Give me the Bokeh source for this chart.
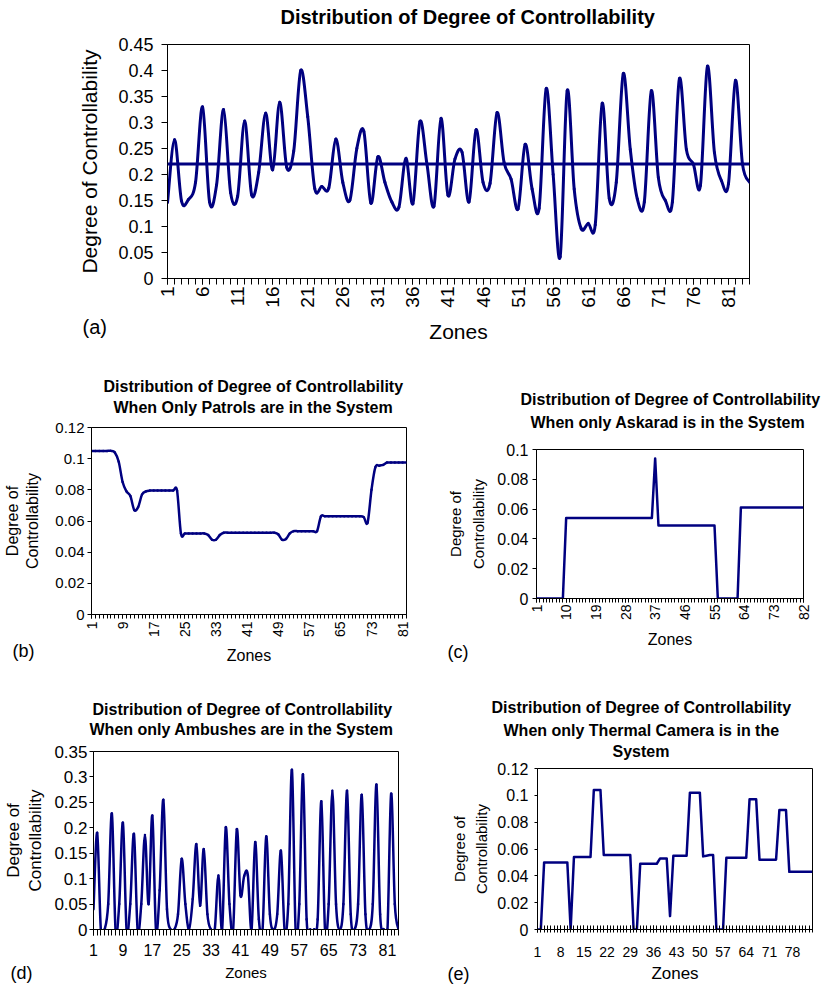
import math
from bokeh.plotting import figure
from bokeh.models import (Range1d, FixedTicker, CustomJSTickFormatter, Label, Span, Title,
                          ColumnDataSource)
from bokeh.layouts import column, row
from bokeh.embed import file_html
from bokeh.resources import INLINE

FONT = "Liberation Sans"
NAVY = "#000080"

ZONES_84 = list(range(1, 85))
ZONES_82 = list(range(1, 83))

# (a) all systems
A_VALUES = [
    0.146, 0.267, 0.149, 0.152, 0.185, 0.330, 0.147, 0.180, 0.325, 0.165,
    0.158, 0.303, 0.161, 0.204, 0.318, 0.209, 0.339, 0.214, 0.245, 0.400,
    0.311, 0.173, 0.177, 0.174, 0.268, 0.185, 0.150, 0.250, 0.283, 0.145,
    0.234, 0.185, 0.147, 0.137, 0.231, 0.144, 0.302, 0.220, 0.139, 0.308,
    0.160, 0.230, 0.243, 0.147, 0.286, 0.185, 0.183, 0.319, 0.223, 0.191,
    0.134, 0.258, 0.172, 0.135, 0.365, 0.200, 0.042, 0.361, 0.172, 0.096,
    0.106, 0.103, 0.337, 0.154, 0.185, 0.394, 0.248, 0.153, 0.147, 0.361,
    0.194, 0.150, 0.147, 0.384, 0.248, 0.220, 0.179, 0.408, 0.242, 0.188,
    0.182, 0.381, 0.220, 0.185]
A_MEAN = 0.22

# (b) patrols only
B_VALUES = [
    0.105, 0.105, 0.105, 0.105, 0.105, 0.105, 0.104, 0.098, 0.085, 0.079,
    0.076, 0.067, 0.069, 0.077, 0.079, 0.0795, 0.0795, 0.0795, 0.0795, 0.0795,
    0.0795, 0.0795, 0.0795, 0.052, 0.052, 0.052, 0.052, 0.052, 0.052, 0.052,
    0.051, 0.048, 0.048, 0.051, 0.0525, 0.0525, 0.0525, 0.0525, 0.0525, 0.0525,
    0.0525, 0.0525, 0.0525, 0.0525, 0.0525, 0.0525, 0.0525, 0.0525, 0.0515, 0.048,
    0.0485, 0.052, 0.0535, 0.0535, 0.0535, 0.0535, 0.0535, 0.0535, 0.0535, 0.063,
    0.063, 0.063, 0.063, 0.063, 0.063, 0.063, 0.063, 0.063, 0.063, 0.063,
    0.0625, 0.059, 0.080, 0.0945, 0.0955, 0.096, 0.0975, 0.0975, 0.0975, 0.0975,
    0.0975, 0.0975]

# (c) Askarad only
C_VALUES = [
    0, 0, 0, 0, 0, 0, 0, 0, 0, 0.054,
    0.054, 0.054, 0.054, 0.054, 0.054, 0.054, 0.054, 0.054, 0.054, 0.054,
    0.054, 0.054, 0.054, 0.054, 0.054, 0.054, 0.054, 0.054, 0.054, 0.054,
    0.054, 0.054, 0.054, 0.054, 0.054, 0.054, 0.094, 0.049, 0.049, 0.049,
    0.049, 0.049, 0.049, 0.049, 0.049, 0.049, 0.049, 0.049, 0.049, 0.049,
    0.049, 0.049, 0.049, 0.049, 0.049, 0, 0, 0, 0, 0,
    0, 0, 0.061, 0.061, 0.061, 0.061, 0.061, 0.061, 0.061, 0.061,
    0.061, 0.061, 0.061, 0.061, 0.061, 0.061, 0.061, 0.061, 0.061, 0.061,
    0.061, 0.061]

# (d) ambushes only
D_VALUES = [
    0.040, 0.190, 0, 0, 0.050, 0.228, 0, 0.050, 0.210, 0,
    0.050, 0.188, 0, 0.050, 0.186, 0.050, 0.224, 0, 0.077, 0.255,
    0.040, 0, 0, 0.030, 0.139, 0.050, 0, 0.060, 0.168, 0.047,
    0.158, 0.030, 0, 0, 0.106, 0, 0.201, 0.050, 0, 0.197,
    0.067, 0.105, 0.107, 0, 0.172, 0.020, 0, 0.183, 0.030, 0,
    0.030, 0.155, 0, 0.050, 0.314, 0, 0.050, 0.305, 0.020, 0,
    0, 0.020, 0.252, 0, 0.050, 0.273, 0.050, 0, 0.050, 0.273,
    0.030, 0, 0.050, 0.265, 0.030, 0, 0.050, 0.285, 0.030, 0,
    0, 0.267, 0.050, 0]

# (e) thermal camera only
E_VALUES = [
    0, 0, 0.050, 0.050, 0.050, 0.050, 0.050, 0.050, 0.050, 0.050,
    0, 0.054, 0.054, 0.054, 0.054, 0.054, 0.054, 0.104, 0.104, 0.104,
    0.0555, 0.0555, 0.0555, 0.0555, 0.0555, 0.0555, 0.0555, 0.0555, 0.0555, 0,
    0, 0.049, 0.049, 0.049, 0.049, 0.049, 0.049, 0.053, 0.053, 0.053,
    0.010, 0.055, 0.055, 0.055, 0.055, 0.055, 0.102, 0.102, 0.102, 0.102,
    0.0545, 0.055, 0.0555, 0.0555, 0, 0, 0, 0.0535, 0.0535, 0.0535,
    0.0535, 0.0535, 0.0535, 0.0535, 0.097, 0.097, 0.097, 0.052, 0.052, 0.052,
    0.052, 0.052, 0.052, 0.089, 0.089, 0.089, 0.043, 0.043, 0.043, 0.043,
    0.043, 0.043, 0.043, 0.043]

A_XLABELS = [1, 6, 11, 16, 21, 26, 31, 36, 41, 46, 51, 56, 61, 66, 71, 76, 81]
B_XLABELS = [1, 9, 17, 25, 33, 41, 49, 57, 65, 73, 81]
C_XLABELS = [1, 10, 19, 28, 37, 46, 55, 64, 73, 82]
D_XLABELS = [1, 9, 17, 25, 33, 41, 49, 57, 65, 73, 81]
E_XLABELS = [1, 8, 15, 22, 29, 36, 43, 50, 57, 64, 71, 78]

A_YTICKS = [0, 0.05, 0.1, 0.15, 0.2, 0.25, 0.3, 0.35, 0.4, 0.45]
B_YTICKS = [0, 0.02, 0.04, 0.06, 0.08, 0.1, 0.12]
C_YTICKS = [0, 0.02, 0.04, 0.06, 0.08, 0.1]
D_YTICKS = [0, 0.05, 0.1, 0.15, 0.2, 0.25, 0.3, 0.35]
E_YTICKS = [0, 0.02, 0.04, 0.06, 0.08, 0.1, 0.12]

T_HEAD = "Distribution of Degree of Controllability"
A_TITLE = [T_HEAD]
B_TITLE = [T_HEAD, "When Only Patrols are in the System"]
C_TITLE = [T_HEAD, "When only Askarad is in the System"]
D_TITLE = [T_HEAD, "When only Ambushes are in the System"]
E_TITLE = [T_HEAD, "When only Thermal Camera is in the", "System"]

YFMT = "return tick.toFixed(2).replace(/\\.?0+$/, '');"


def smoothed_line(p, xs, ys, color, width):
    """Excel-style smoothed line: one cubic Bezier per pair of neighbouring points."""
    n = len(xs)
    seg = dict(x0=[], y0=[], x1=[], y1=[], cx0=[], cy0=[], cx1=[], cy1=[])
    for i in range(n - 1):
        a = max(i - 1, 0)
        d = min(i + 2, n - 1)
        seg["x0"].append(xs[i])
        seg["y0"].append(ys[i])
        seg["x1"].append(xs[i + 1])
        seg["y1"].append(ys[i + 1])
        seg["cx0"].append(xs[i] + (xs[i + 1] - xs[a]) / 6.0)
        seg["cy0"].append(ys[i] + (ys[i + 1] - ys[a]) / 6.0)
        seg["cx1"].append(xs[i + 1] - (xs[d] - xs[i]) / 6.0)
        seg["cy1"].append(ys[i + 1] - (ys[d] - ys[i]) / 6.0)
    p.bezier(x0="x0", y0="y0", x1="x1", y1="y1", cx0="cx0", cy0="cy0", cx1="cx1", cy1="cy1",
             source=ColumnDataSource(seg), line_color=color, line_width=width, line_cap="round")


def make(zones, values, w, h, left, top, fw, fh, y_end, yticks, xlabels, title_lines, t):
    p = figure(width=w, height=h, x_range=Range1d(zones[0], zones[-1]), y_range=Range1d(0, y_end),
               output_backend="svg", toolbar_location=None, title=None,
               min_border_left=left, min_border_top=top,
               min_border_right=w - left - fw, min_border_bottom=h - top - fh)
    p.background_fill_color = "white"
    p.border_fill_color = "white"
    p.outline_line_color = "black"
    p.outline_line_width = 1
    p.xgrid.visible = False
    p.ygrid.visible = False

    # spacer between frame and the title block
    p.add_layout(Title(text=" ", text_font=FONT, text_font_size="1px",
                       standoff=t["gap"]), "above")
    # title lines, bottom line first (closest to the frame)
    n = len(title_lines)
    for k in range(n - 1, -1, -1):
        p.add_layout(Title(text=title_lines[k], text_font=FONT, text_font_style="bold",
                           text_font_size=t["title_fs"], align="left",
                           offset=t["title_offsets"][k], standoff=t["title_standoffs"][k],
                           text_color="black"), "above")

    xa = p.xaxis[0]
    xa.ticker = FixedTicker(ticks=xlabels, minor_ticks=zones)
    xa.axis_line_color = "black"
    xa.major_tick_line_color = "black"
    xa.minor_tick_line_color = "black"
    xa.major_tick_out = t["xtick_out"]
    xa.minor_tick_out = t["xtick_out"]
    xa.major_tick_in = t["xtick_in"]
    xa.minor_tick_in = t["xtick_in"]
    xa.major_label_text_font = FONT
    xa.major_label_text_font_size = t["xlab_fs"]
    xa.major_label_text_color = "black"
    xa.major_label_standoff = t["xlab_standoff"]
    if t["xvertical"]:
        xa.major_label_orientation = math.pi / 2
    xa.axis_label = "Zones"
    xa.axis_label_text_font = FONT
    xa.axis_label_text_font_style = "normal"
    xa.axis_label_text_font_size = t["xtitle_fs"]
    xa.axis_label_text_color = "black"
    xa.axis_label_standoff = t["xtitle_standoff"]

    ya = p.yaxis[0]
    ya.ticker = FixedTicker(ticks=yticks)
    ya.formatter = CustomJSTickFormatter(code=YFMT)
    ya.axis_line_color = "black"
    ya.major_tick_line_color = "black"
    ya.minor_tick_line_color = None
    ya.major_tick_out = t["ytick_out"]
    ya.major_tick_in = 0
    ya.major_label_text_font = FONT
    ya.major_label_text_font_size = t["ylab_fs"]
    ya.major_label_text_color = "black"
    ya.major_label_standoff = t["ylab_standoff"]
    ya.axis_label = t["ytitle"]
    ya.axis_label_text_font = FONT
    ya.axis_label_text_font_style = "normal"
    ya.axis_label_text_font_size = t["ytitle_fs"]
    ya.axis_label_text_color = "black"
    ya.axis_label_text_line_height = t["ytitle_lh"]
    ya.axis_label_standoff = t["ytitle_standoff"]

    if t["smooth"]:
        smoothed_line(p, zones, values, NAVY, t["lw"])
    else:
        p.line(zones, values, line_color=NAVY, line_width=t["lw"], line_join="round")

    # panel tag, "(a)".."(e)", placed in a side panel so it is not clipped to the frame
    p.add_layout(Label(x=t["tag_x"], y=t["tag_y"], x_units="screen", y_units="screen",
                       text=t["tag"], text_font=FONT, text_font_size=t["tag_fs"],
                       text_baseline="middle", text_align="left", text_color="black"),
                 t["tag_side"])
    return p


fig_a = make(ZONES_84, A_VALUES, 833, 345, 167, 44, 582, 237, 0.45, A_YTICKS, A_XLABELS, A_TITLE, dict(
    gap=14, title_fs="20px", title_offsets=[113], title_standoffs=[0],
    xtick_out=6, xtick_in=0, xlab_fs="19px", xlab_standoff=2, xvertical=True,
    xtitle_fs="21px", xtitle_standoff=9,
    ytick_out=6, ylab_fs="18px", ylab_standoff=8,
    ytitle="Degree of Controllability", ytitle_fs="21px", ytitle_lh=1.0, ytitle_standoff=14,
    smooth=True, lw=3, tag="(a)", tag_side="right", tag_x=-667, tag_y=-48, tag_fs="20px"))
fig_a.add_layout(Span(location=A_MEAN, dimension="width", line_color=NAVY, line_width=3))

fig_b = make(ZONES_82, B_VALUES, 420, 323, 89, 82, 317, 187, 0.12, B_YTICKS, B_XLABELS, B_TITLE, dict(
    gap=9, title_fs="16px", title_offsets=[12, 22], title_standoffs=[4, 0],
    xtick_out=4, xtick_in=0, xlab_fs="14px", xlab_standoff=3, xvertical=True,
    xtitle_fs="16px", xtitle_standoff=7,
    ytick_out=4, ylab_fs="15px", ylab_standoff=3,
    ytitle="Degree of\nControllability", ytitle_fs="16px", ytitle_lh=1.2, ytitle_standoff=11,
    smooth=True, lw=2.5, tag="(b)", tag_side="above", tag_x=-79, tag_y=-277, tag_fs="18px"))

fig_c = make(ZONES_82, C_VALUES, 413, 323, 116, 104, 267, 149, 0.1, C_YTICKS, C_XLABELS, C_TITLE, dict(
    gap=16, title_fs="16px", title_offsets=[-16, -6], title_standoffs=[8, 0],
    xtick_out=4, xtick_in=0, xlab_fs="14px", xlab_standoff=2, xvertical=True,
    xtitle_fs="16px", xtitle_standoff=8,
    ytick_out=4, ylab_fs="16px", ylab_standoff=4,
    ytitle="Degree of\nControllability", ytitle_fs="15px", ytitle_lh=1.35, ytitle_standoff=7,
    smooth=False, lw=2.5, tag="(c)", tag_side="above", tag_x=-89, tag_y=-267, tag_fs="18px"))

fig_d = make(ZONES_84, D_VALUES, 420, 317, 93, 83, 305, 178, 0.35, D_YTICKS, D_XLABELS, D_TITLE, dict(
    gap=11, title_fs="16px", title_offsets=[-1, -4], title_standoffs=[2, 0],
    xtick_out=6, xtick_in=0, xlab_fs="16px", xlab_standoff=8, xvertical=False,
    xtitle_fs="15px", xtitle_standoff=5,
    ytick_out=4, ylab_fs="17px", ylab_standoff=2,
    ytitle="Degree of\nControllability", ytitle_fs="17px", ytitle_lh=1.2, ytitle_standoff=6,
    smooth=True, lw=2.5, tag="(d)", tag_side="above", tag_x=-83, tag_y=-275, tag_fs="18px"))

fig_e = make(ZONES_84, E_VALUES, 413, 317, 117, 100, 275, 162, 0.12, E_YTICKS, E_XLABELS, E_TITLE, dict(
    gap=6, title_fs="16px", title_offsets=[-46, -34, 75], title_standoffs=[4, 4, 0],
    xtick_out=3, xtick_in=4, xlab_fs="14px", xlab_standoff=14, xvertical=False,
    xtitle_fs="17px", xtitle_standoff=4,
    ytick_out=3, ylab_fs="16px", ylab_standoff=6,
    ytitle="Degree of\nControllability", ytitle_fs="15px", ytitle_lh=1.33, ytitle_standoff=4,
    smooth=False, lw=2.5, tag="(e)", tag_side="above", tag_x=-90, tag_y=-279, tag_fs="18px"))

layout = column(fig_a,
                row(column(fig_b), column(fig_c)),
                row(column(fig_d), column(fig_e)))

open("out.html", "w").write(file_html(layout, INLINE))
